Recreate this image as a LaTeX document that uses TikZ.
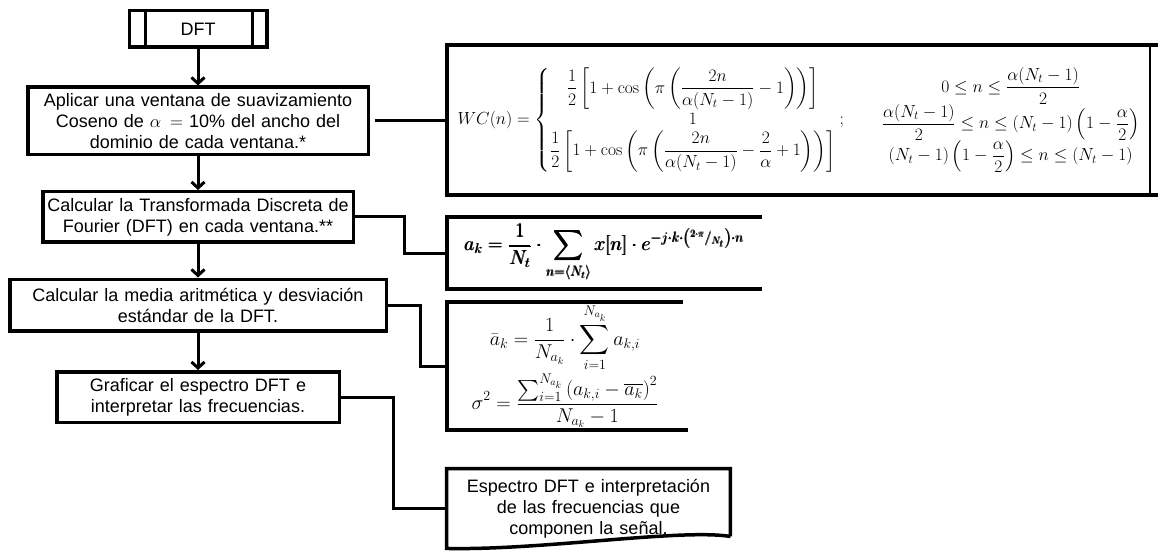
\RequirePackage{fix-cm}
\documentclass[tikz,border=0pt]{standalone}
\usepackage{amsmath}
\usepackage{fontspec}
\newfontfamily\flowfont{Liberation Sans}
\usetikzlibrary{arrows.meta, positioning}
\tikzset{%
  flow_block/.style={%
    rectangle,%
    draw=black,%
    line width=3.5pt,%
    inner xsep=0pt,%
    inner ysep=0pt,%
    align=center,%
    font={\flowfont\fontsize{18}{21}\selectfont},%
  },
  flow_text/.style={%
    rectangle,%
    inner xsep=0pt,%
    inner ysep=0pt,%
    align=center,%
    font={\flowfont\fontsize{18}{21}\selectfont},%
  },
  formula/.style={%
    rectangle,%
    inner sep=0pt,%
    align=center,%
  },
  bracket_line/.style={%
    draw=black,%
    line width=3.5pt,%
    line join=miter,%
  },
  flow_path/.style={%
    draw=black,%
    line width=3pt,%
    line join=miter,%
  },
  flow_arrow/.style={%
    flow_path,%
    -{Straight Barb[length=6pt, width=13pt]},%
  },
}

\begin{document}
\begin{tikzpicture}[x=1pt, y=-1pt]
    \useasboundingbox (0,0) rectangle (1158,553);

    \node [flow_block, minimum width=137.5pt, minimum height=36.5pt] (DFT) at (198,29) {DFT};
    \node [flow_block, text width=340.5pt, minimum height=67.5pt, below = 36.5pt of DFT] (Window)
      {Aplicar una ventana de suavizamiento\\Coseno de $\alpha=$ 10\% del ancho del\\dominio de cada ventana.*};
    \node [flow_block, text width=310.5pt, minimum height=50.5pt, below = 33.5pt of Window] (Transform)
      {Calcular la Transformada Discreta de\\Fourier (DFT) en cada ventana.**};
    \node [flow_block, text width=376.5pt, minimum height=51.5pt, below = 33.5pt of Transform] (Stats)
      {Calcular la media aritmética y desviación\\estándar de la DFT.};
    \node [flow_block, text width=282.5pt, minimum height=50.5pt, below = 37.5pt of Stats] (Plot)
      {Graficar el espectro DFT e\\interpretar las frecuencias.};
    \node [flow_text, text width=283.5pt, minimum height=79.5pt] (Result) at (588.5,508.5)
      {Espectro DFT e interpretación\\de las frecuencias que\\componen la señal.};

    \draw [flow_path] ([xshift=18pt]DFT.north west) -- ([xshift=18pt]DFT.south west);
    \draw [flow_path] ([xshift=-16pt]DFT.north east) -- ([xshift=-16pt]DFT.south east);

    \node [formula, minimum width=703pt, minimum height=150pt] (WindowEq) at (798.5,120)
      {\fontsize{17.5}{21}\selectfont$\displaystyle
        WC(n)=\left\{\begin{array}{@{}c@{}}
          \dfrac{1}{2}\left[1+\cos\left(\pi\left(\dfrac{2n}{\alpha(N_t-1)}-1\right)\right)\right]\\
          1\\
          \dfrac{1}{2}\left[1+\cos\left(\pi\left(\dfrac{2n}{\alpha(N_t-1)}-\dfrac{2}{\alpha}+1\right)\right)\right]
        \end{array}\right.;\qquad
        \begin{array}{@{}c@{}}
          0\le n\le\dfrac{\alpha(N_t-1)}{2}\\
          \dfrac{\alpha(N_t-1)}{2}\le n\le(N_t-1)\left(1-\dfrac{\alpha}{2}\right)\\
          (N_t-1)\left(1-\dfrac{\alpha}{2}\right)\le n\le(N_t-1)
        \end{array}$};
    \node [formula, minimum width=315pt, minimum height=72pt] (DFTEq) at (604.5,253)
      {\fontsize{20}{24}\selectfont$\displaystyle\pmb{
        a_k=\frac{1}{N_t}\cdot\sum_{n=\langle N_t\rangle}x[n]\cdot
        e^{-j\cdot k\cdot\left({}^{2\cdot\pi}/_{N_t}\right)\cdot n}}$};
    \node [formula, minimum width=236pt, minimum height=128pt] (StatsEq) at (565,366)
      {\fontsize{20}{23}\selectfont$\displaystyle
        \bar{a}_k=\frac{1}{N_{a_k}}\cdot\sum_{i=1}^{N_{a_k}}a_{k,i}$\\[1pt]
       \fontsize{20}{23}\selectfont$\displaystyle
        \sigma^2=\frac{\sum_{i=1}^{N_{a_k}}\left(a_{k,i}-\overline{a_k}\right)^2}{N_{a_k}-1}$};

    \draw [bracket_line] ([xshift=8pt]WindowEq.north east) -- (WindowEq.north west)
      -- (WindowEq.south west) -- ([xshift=8pt]WindowEq.south east);
    \draw [bracket_line, line width=2.5pt] (WindowEq.north east) -- (WindowEq.south east);
    \draw [bracket_line] (DFTEq.north east) -- (DFTEq.north west)
      -- (DFTEq.south west) -- (DFTEq.south east);
    \draw [bracket_line] (StatsEq.north east) -- (StatsEq.north west)
      -- (StatsEq.south west) -- ([xshift=5pt]StatsEq.south east);
    \draw [bracket_line] ([yshift=12pt]Result.south east) -- (Result.north east)
      -- (Result.north west) -- (Result.south west)
      .. controls +(95,2) and +(-50,-8) .. ([yshift=12pt]Result.south east);

    \draw [flow_arrow] (DFT) -- (Window);
    \draw [flow_arrow] (Window) -- (Transform);
    \draw [flow_arrow] (Transform) -- (Stats);
    \draw [flow_arrow] (Stats) -- (Plot);

    \draw [flow_path, shorten <=5pt] (Window.east) -- (Window.east -| WindowEq.west);
    \draw [flow_path] (Transform.east) -- ++(49,0) |- (DFTEq.west);
    \draw [flow_path] (Stats.east) -- ++(32,0) |- (StatsEq.west);
    \draw [flow_path] (Plot.east) -- ++(52,0) |- (Result.west);
  \end{tikzpicture}
\end{document}
